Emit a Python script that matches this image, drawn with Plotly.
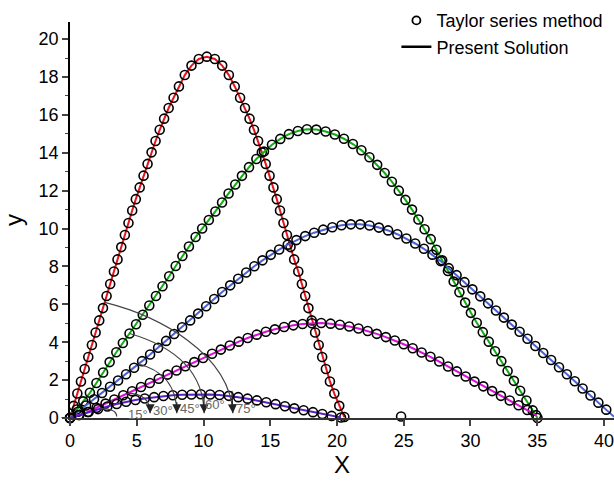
import plotly.graph_objects as go

# ---- data (x, y) ----
red_pts = [(0, 0), (0.27, 0.64), (0.55, 1.29), (0.82, 1.93), (1.10, 2.59), (1.37, 3.22), (1.64, 3.85),
           (1.92, 4.51), (2.19, 5.15), (2.47, 5.80), (2.74, 6.44), (3.01, 7.07), (3.29, 7.73), (3.56, 8.37),
           (3.84, 9.02), (4.11, 9.66), (4.38, 10.29), (4.66, 10.95), (4.93, 11.55), (5.22, 12.17),
           (5.51, 12.79), (5.81, 13.41), (6.11, 14.02), (6.41, 14.62), (6.72, 15.21), (7.05, 15.80),
           (7.39, 16.36), (7.76, 16.90), (8.16, 17.50), (8.60, 18.10), (9.10, 18.60), (9.65, 18.95),
           (10.25, 19.07), (10.85, 18.95), (11.40, 18.60), (11.90, 18.10), (12.34, 17.50), (12.74, 16.90),
           (13.11, 16.36), (13.45, 15.80), (13.78, 15.21), (14.09, 14.62), (14.37, 14.02), (14.66, 13.41),
           (14.95, 12.79), (15.24, 12.17), (15.49, 11.55), (15.73, 10.95), (15.99, 10.29), (16.25, 9.66),
           (16.52, 9.02), (16.79, 8.37), (17.10, 7.73), (17.37, 7.07), (17.62, 6.44), (17.86, 5.80),
           (18.11, 5.15), (18.36, 4.51), (18.63, 3.85), (18.89, 3.22), (19.17, 2.59), (19.47, 1.93),
           (19.80, 1.29), (20.17, 0.64), (20.55, 0.05)]

green_pts = [(0, 0), (0.50, 0.45), (0.99, 0.88), (1.49, 1.33), (1.98, 1.85), (2.48, 2.40), (2.97, 2.95),
             (3.47, 3.47), (3.96, 3.96), (4.46, 4.46), (4.95, 4.95), (5.45, 5.45), (5.94, 5.94), (6.44, 6.44),
             (6.93, 6.95), (7.43, 7.48), (7.92, 8.02), (8.42, 8.55), (8.91, 9.05), (9.41, 9.55), (9.90, 10.00),
             (10.40, 10.45), (10.89, 10.90), (11.39, 11.37), (11.88, 11.85), (12.38, 12.32), (12.88, 12.78),
             (13.41, 13.24), (13.96, 13.67), (14.53, 14.06), (15.13, 14.42), (15.75, 14.73), (16.40, 14.98),
             (17.07, 15.15), (17.75, 15.24), (18.45, 15.22), (19.15, 15.12), (19.84, 14.96), (20.52, 14.74),
             (21.19, 14.46), (21.83, 14.13), (22.43, 13.76), (23.01, 13.36), (23.57, 12.93), (24.11, 12.47),
             (24.63, 12.00), (25.13, 11.51), (25.62, 11.00), (26.10, 10.48), (26.56, 9.96), (27.02, 9.44),
             (27.45, 8.88), (27.88, 8.32), (28.31, 7.76), (28.74, 7.20), (29.17, 6.64), (29.60, 6.09),
             (30.03, 5.55), (30.47, 5.03), (30.92, 4.53), (31.37, 4.03), (31.84, 3.52), (32.31, 3.00),
             (32.78, 2.48), (33.25, 1.96), (33.72, 1.44), (34.19, 0.92), (34.66, 0.40), (35.02, 0.0)]

blue_pts = [(0, 0), (0.6, 0.33), (1.2, 0.66), (1.8, 0.99), (2.4, 1.32), (3.0, 1.65), (3.6, 1.98), (4.2, 2.31),
            (4.8, 2.65), (5.4, 3.00), (6.0, 3.35), (6.6, 3.71), (7.2, 4.07), (7.8, 4.43), (8.4, 4.79),
            (9.0, 5.15), (9.6, 5.51), (10.2, 5.90), (10.8, 6.28), (11.4, 6.65), (12.0, 7.00), (12.6, 7.35),
            (13.2, 7.68), (13.81, 8.01), (14.42, 8.32), (15.04, 8.61), (15.67, 8.89), (16.31, 9.15),
            (16.96, 9.39), (17.62, 9.60), (18.29, 9.78), (18.97, 9.94), (19.65, 10.07), (20.34, 10.17),
            (21.04, 10.22), (21.74, 10.22), (22.44, 10.16), (23.14, 10.05), (23.83, 9.90), (24.52, 9.70),
            (25.20, 9.47), (25.86, 9.21), (26.51, 8.93), (27.15, 8.62), (27.77, 8.28), (28.37, 7.91),
            (28.96, 7.54), (29.55, 7.17), (30.14, 6.79), (30.73, 6.42), (31.32, 6.05), (31.91, 5.67),
            (32.50, 5.30), (33.09, 4.93), (33.68, 4.55), (34.27, 4.18), (34.86, 3.80), (35.45, 3.43),
            (36.04, 3.06), (36.63, 2.68), (37.22, 2.31), (37.81, 1.94), (38.40, 1.56), (38.99, 1.19),
            (39.58, 0.81), (40.17, 0.44), (40.76, 0.06)]

magenta_pts = [(0, 0), (0.66, 0.16), (1.33, 0.32), (1.99, 0.54), (2.66, 0.76), (3.32, 0.98), (3.99, 1.20),
               (4.65, 1.41), (5.32, 1.64), (5.98, 1.85), (6.65, 2.07), (7.31, 2.29), (7.98, 2.51), (8.64, 2.73),
               (9.31, 2.95), (9.97, 3.17), (10.64, 3.39), (11.30, 3.61), (11.97, 3.83), (12.64, 4.03),
               (13.31, 4.22), (13.99, 4.40), (14.67, 4.55), (15.35, 4.68), (16.04, 4.80), (16.73, 4.89),
               (17.42, 4.96), (18.12, 5.00), (18.82, 5.01), (19.52, 4.98), (20.22, 4.92), (20.92, 4.83),
               (21.61, 4.72), (22.30, 4.59), (22.98, 4.44), (23.66, 4.27), (24.33, 4.09), (25.00, 3.89),
               (25.67, 3.68), (26.34, 3.46), (27.00, 3.23), (27.66, 2.98), (28.32, 2.72), (28.98, 2.46),
               (29.64, 2.19), (30.30, 1.92), (30.96, 1.67), (31.62, 1.42), (32.28, 1.17), (32.94, 0.92),
               (33.60, 0.67), (34.26, 0.42), (34.92, 0.15)]

purple_pts = [(0, 0), (0.7, 0.16), (1.4, 0.32), (2.1, 0.47), (2.8, 0.61), (3.5, 0.74), (4.2, 0.86), (4.9, 0.95),
              (5.6, 1.03), (6.3, 1.10), (7.0, 1.16), (7.7, 1.20), (8.4, 1.23), (9.1, 1.24), (9.8, 1.25),
              (10.5, 1.24), (11.2, 1.21), (11.9, 1.17), (12.6, 1.10), (13.3, 1.02), (14.0, 0.93), (14.7, 0.83),
              (15.4, 0.73), (16.1, 0.62), (16.8, 0.51), (17.5, 0.41), (18.2, 0.31), (18.9, 0.21), (19.6, 0.11),
              (20.3, 0.03)]

stray_pts = [(24.8, 0.08)]

curve_colors = ["#E8141B", "#10B010", "#4A62D8", "#D810D8", "#5A1EC8"]
curves = [red_pts, green_pts, blue_pts, magenta_pts, purple_pts]

x_ticks = [0, 5, 10, 15, 20, 25, 30, 35, 40]
y_ticks = [0, 2, 4, 6, 8, 10, 12, 14, 16, 18, 20]

# angle annotation arcs (start, control1, control2, end) and label positions, data units
arc_labels = ["15°", "30°", "45°", "60°", "75°"]
arc_start = [(2.3, 0.50), (4.3, 1.30), (5.1, 2.85), (4.46, 4.46), (2.6, 6.10)]
arc_c1 = [(2.9, 0.50), (5.3, 1.30), (6.6, 2.60), (7.2, 3.90), (6.6, 5.40)]
arc_c2 = [(3.5, 0.40), (6.0, 1.00), (8.0, 1.90), (10.0, 2.80), (12.0, 3.40)]
arc_end = [(3.5, 0.08), (6.0, 0.25), (8.0, 0.25), (10.05, 0.25), (12.2, 0.25)]
label_pos = [(5.1, 0.18), (7.0, 0.42), (9.0, 0.52), (10.85, 0.69), (13.2, 0.52)]

FONT = "Liberation Sans, Arial, sans-serif"
MARKER = dict(symbol="circle-open", size=9, color="black", line=dict(width=1.6))

fig = go.Figure()
for pts, col in zip(curves, curve_colors):
    xs = [p[0] for p in pts]
    ys = [p[1] for p in pts]
    fig.add_trace(go.Scatter(x=xs, y=ys, mode="lines", line=dict(color=col, width=2),
                             showlegend=False, cliponaxis=False, hoverinfo="skip"))
    fig.add_trace(go.Scatter(x=xs, y=ys, mode="markers", marker=MARKER,
                             showlegend=False, cliponaxis=False))

fig.add_trace(go.Scatter(x=[p[0] for p in stray_pts], y=[p[1] for p in stray_pts], mode="markers",
                         marker=MARKER, showlegend=False, cliponaxis=False))

# legend entries
fig.add_trace(go.Scatter(x=[None], y=[None], mode="markers", name="Taylor series method",
                         marker=dict(symbol="circle-open", size=8, color="black", line=dict(width=1.8))))
fig.add_trace(go.Scatter(x=[None], y=[None], mode="lines", name="Present Solution",
                         line=dict(color="black", width=2.5)))

shapes = []
annotations = []
for lab, s, c1, c2, e, lp in zip(arc_labels, arc_start, arc_c1, arc_c2, arc_end, label_pos):
    path = f"M {s[0]},{s[1]} C {c1[0]},{c1[1]} {c2[0]},{c2[1]} {e[0]},{e[1]}"
    shapes.append(dict(type="path", path=path, xref="x", yref="y", line=dict(color="#444444", width=1.2)))
    annotations.append(dict(x=e[0], y=e[1], ax=c2[0] + (e[0] - c2[0]) * 0.6, ay=c2[1] + (e[1] - c2[1]) * 0.6,
                            xref="x", yref="y", axref="x", ayref="y", text="", showarrow=True,
                            arrowhead=2, arrowsize=1.5, arrowwidth=1.2, arrowcolor="#222222"))
    annotations.append(dict(x=lp[0], y=lp[1], xref="x", yref="y", text=lab, showarrow=False,
                            font=dict(family=FONT, size=13, color="#666666")))

# short extension of the x axis line left of the origin
shapes.append(dict(type="line", xref="paper", yref="y", x0=-0.016, x1=0, y0=0, y1=0,
                   line=dict(color="#333333", width=1.5)))

fig.update_layout(
    width=614, height=481,
    margin=dict(l=70, r=0, t=22, b=63, autoexpand=False),
    paper_bgcolor="white", plot_bgcolor="white",
    font=dict(family=FONT, size=18, color="black"),
    shapes=shapes, annotations=annotations,
    legend=dict(x=0.6, y=1.05, xanchor="left", yanchor="top", bgcolor="rgba(0,0,0,0)",
                font=dict(family=FONT, size=18, color="black"), tracegroupgap=0),
    showlegend=True,
)
fig.update_xaxes(range=[0, 40.75], tickvals=x_ticks, ticks="outside", ticklen=6, tickwidth=1.5,
                 showline=True, linecolor="#333333", linewidth=1.5, showgrid=False, zeroline=False,
                 tickfont=dict(size=18), title=dict(text="X", font=dict(size=24), standoff=4),
                 automargin=False, ticklabeloverflow="allow")
fig.update_yaxes(range=[0, 20.9], tickvals=y_ticks, ticks="outside", ticklen=6, tickwidth=1.5,
                 showline=True, linecolor="black", linewidth=1.5, showgrid=False, zeroline=False,
                 tickfont=dict(size=18), title=dict(text="y", font=dict(size=24), standoff=10),
                 minor=dict(ticks="outside", ticklen=3, tickwidth=1.2, dtick=1, showgrid=False),
                 automargin=False, ticklabeloverflow="allow")

fig.write_html("out.html", config={"displayModeBar": False},
               post_script="document.body.style.margin='0px';document.body.style.padding='0px';")
